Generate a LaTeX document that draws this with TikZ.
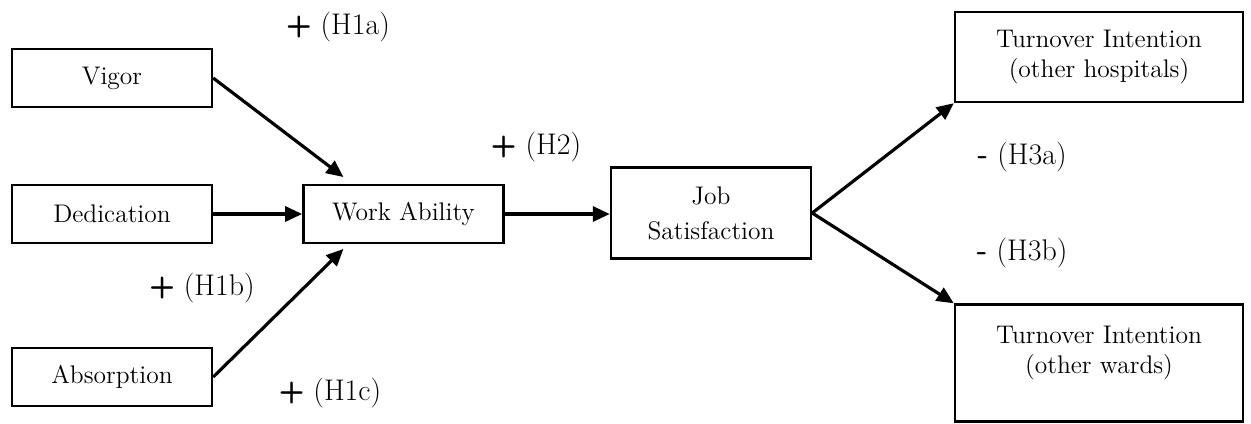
\documentclass[tikz,border=0pt]{standalone}
\usepackage{tikz}
\usetikzlibrary{positioning,arrows.meta}

\begin{document}
\begin{tikzpicture}[x=0.02cm, y=-0.02cm,
    box/.style={draw, line width=1.4pt, minimum width=4cm, minimum height=1.15cm, inner sep=2pt, align=center, font=\fontsize{14.5}{17}\selectfont},
    hyp/.style={font=\fontsize{17}{19}\selectfont},
    link/.style={line width=1.8pt, -{Triangle[length=0.34cm, width=0.3cm]}}]
    \useasboundingbox (0,0) rectangle (1251,423);

    % engagement
    \node [box] (vigor) at (112,78) {Vigor};
    \node [box] (dedication) at (112,214) {Dedication};
    \node [box] (absorption) at (112,377) {Absorption};

    % mediators
    \node [box, right=1.78cm of dedication] (work) {Work Ability};
    \node [box, minimum height=1.82cm] (job) at (711,213) {Job\\[3pt]Satisfaction};

    % outcomes
    \node [box, minimum width=5.76cm, minimum height=1.8cm] (hosp) at (1099,57) {Turnover Intention\\(other hospitals)};
    \node [box, minimum width=5.76cm, minimum height=2.34cm] (wards) at (1099,363) {};
    \node [below=0.33cm of wards.north, align=center, font=\fontsize{14.5}{17}\selectfont] (wardstext) {Turnover Intention\\(other wards)};

    \draw [link] (vigor.east) -- ([xshift=-1.2cm, yshift=0.14cm]work.north);
    \draw [link] (dedication.east) -- (work.west);
    \draw [link] (absorption.east) -- ([xshift=-1.2cm, yshift=-0.1cm]work.south);
    \draw [link] (work.east) -- (work.east -| job.west);
    \draw [link] (job.east) -- (hosp.south west);
    \draw [link] (job.east) -- (wards.north west);

    \node [hyp] (h1a) at (338,27) {\textsf{\textbf{+}} (H1a)};
    \node [hyp] (h1b) at (202,288) {\textsf{\textbf{+}} (H1b)};
    \node [hyp] (h1c) at (330,393) {\textsf{\textbf{+}} (H1c)};
    \node [hyp] (h2) at (536,147) {\textsf{\textbf{+}} (H2)};
    \node [hyp] (h3a) at (1022,157) {\textsf{\textbf{-}} (H3a)};
    \node [hyp] (h3b) at (1022,253) {\textsf{\textbf{-}} (H3b)};
\end{tikzpicture}
\end{document}
